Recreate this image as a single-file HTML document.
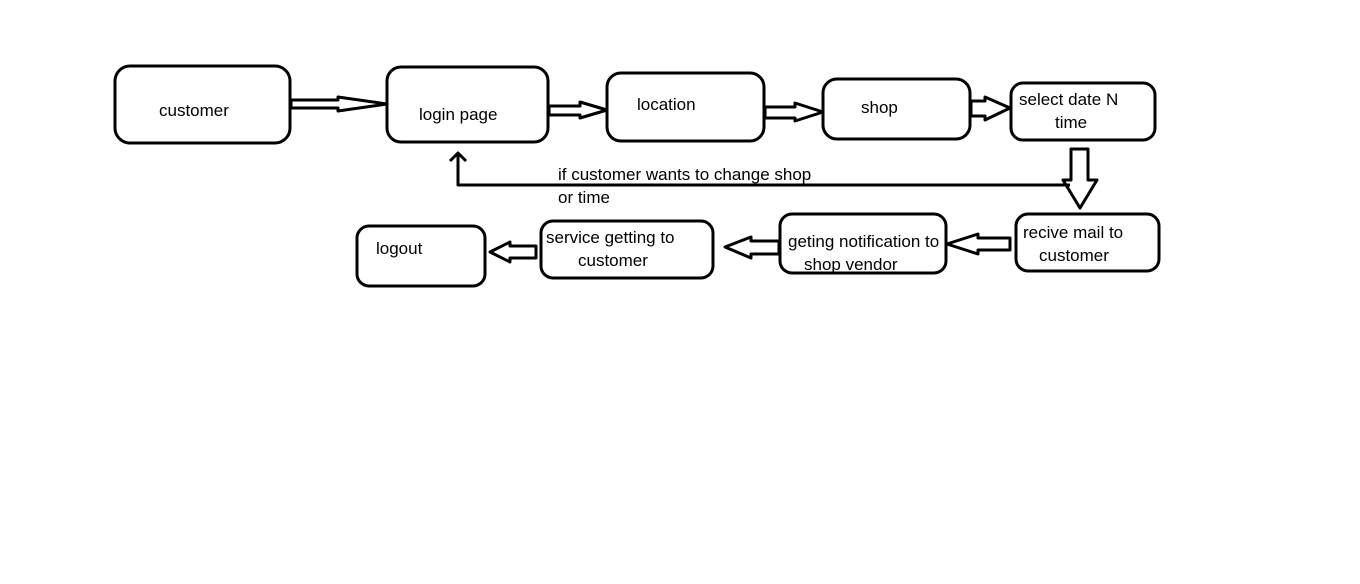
<!DOCTYPE html>
<html><head><meta charset="utf-8"><style>
html,body{margin:0;padding:0;background:#fff;}
svg{display:block;}
text{font-family:"Liberation Sans",sans-serif;font-size:17px;fill:#000;}
</style></head><body>
<svg width="1360" height="584" viewBox="0 0 1360 584" xmlns="http://www.w3.org/2000/svg">
<g fill="none" stroke="#000" stroke-width="3" stroke-linejoin="round">
<rect x="115" y="66" width="175" height="77" rx="15"/>
<rect x="387" y="67" width="161" height="75" rx="14"/>
<rect x="607" y="73" width="157" height="68" rx="14"/>
<rect x="823" y="79" width="147" height="60" rx="14"/>
<rect x="1011" y="83" width="144" height="57" rx="12"/>
<rect x="1016" y="214" width="143" height="57" rx="12"/>
<rect x="780" y="214" width="166" height="59" rx="12"/>
<rect x="541" y="221" width="172" height="57" rx="12"/>
<rect x="357" y="226" width="128" height="60" rx="12"/>
<polygon points="291,100 338,100 338,97 387,104 338,111 338,108 291,108"/>
<polygon points="549,106 580,106 580,102 607,110 580,118 580,115 549,115"/>
<polygon points="765,107 795,107 795,103 823,112 795,121 795,118 765,118"/>
<polygon points="971,101 985,101 985,97 1010,108 985,120 985,116 971,116"/>
<polygon points="1071,149 1088,149 1088,180 1097,180 1080,208 1063,180 1071,180"/>
<polygon points="1010,238 978,238 978,234 947,244 978,254 978,250 1010,250"/>
<polygon points="779,241 751,241 751,237 725,247 751,258 751,254 779,254"/>
<polygon points="536,246 510,246 510,242 490,252 510,262 510,258 536,258"/>
<polyline points="1070,185 458,185 458,153"/>
<polyline points="450,161 458,153 466,161"/>
</g>
<text x="159" y="116">customer</text>
<text x="419" y="120">login page</text>
<text x="637" y="110">location</text>
<text x="861" y="113">shop</text>
<text x="1019" y="105">select date N</text>
<text x="1055" y="128">time</text>
<text x="558" y="180">if customer wants to change shop</text>
<text x="558" y="203">or time</text>
<text x="1023" y="238">recive mail to</text>
<text x="1039" y="261">customer</text>
<text x="788" y="247">geting notification to</text>
<text x="804" y="270">shop vendor</text>
<text x="546" y="243">service getting to</text>
<text x="578" y="266">customer</text>
<text x="376" y="254">logout</text>
</svg>
</body></html>
